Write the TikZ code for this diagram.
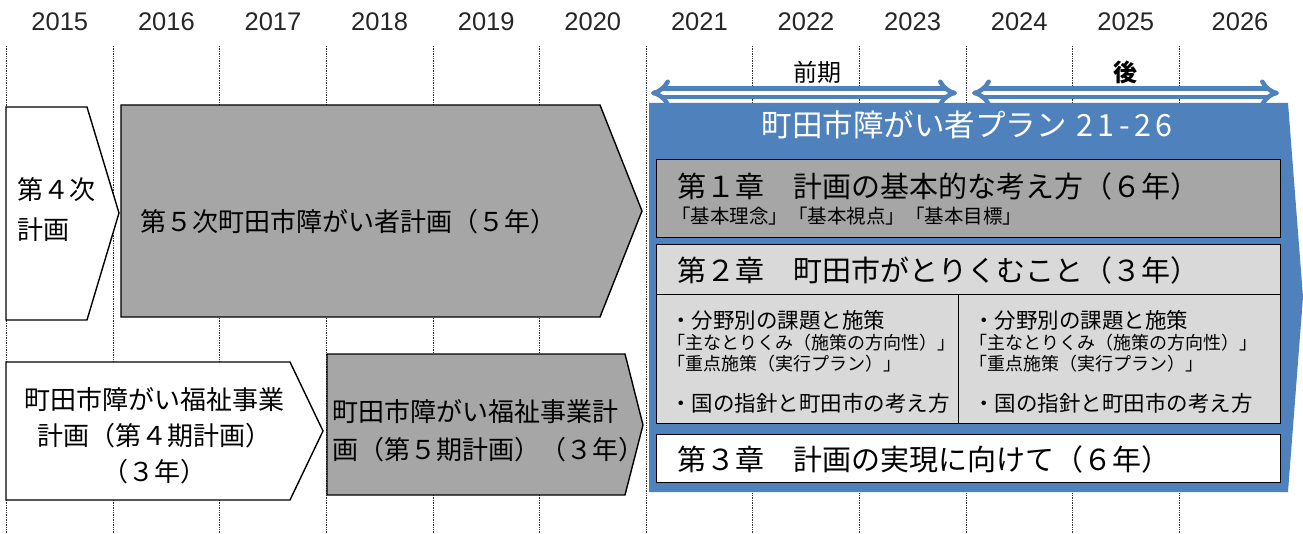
\documentclass[tikz,border=0pt]{standalone}
\usepackage{fontspec}
\setmainfont{Noto Sans CJK JP}
\newfontfamily\yearfont{Liberation Sans}
\usetikzlibrary{arrows.meta}
\definecolor{planblue}{HTML}{4F81BD}
\definecolor{plangray}{HTML}{A6A6A6}
\definecolor{planlight}{HTML}{D9D9D9}
\tikzset{
  gridln/.style={densely dotted,line width=0.7pt,black!80},
  yearlbl/.style={font=\yearfont\fontsize{25.5}{26}\selectfont,text=black!85},
  shapeln/.style={line width=1.4pt,line join=miter},
  boxln/.style={line width=1pt},
  bigtxt/.style={font=\fontsize{26}{38}\selectfont,inner sep=0pt},
  chaptxt/.style={font=\fontsize{29}{30}\selectfont,inner sep=0pt,anchor=west},
  subtxt/.style={font=\fontsize{19.5}{20}\selectfont,inner sep=0pt,anchor=west},
  bultxt/.style={font=\fontsize{21.5}{22}\selectfont,inner sep=0pt,anchor=west},
  smalltxt/.style={font=\fontsize{18}{19}\selectfont,inner sep=0pt,anchor=west},
  termarrow/.style={planblue,line width=4.5pt,double=white,double distance=4pt,{Implies}-{Implies}},
}
\begin{document}
\begin{tikzpicture}[x=1pt,y=-1pt]
  \useasboundingbox (0,0) rectangle (1303,534);
  \foreach \x in {0,...,11}
    \draw[gridln] (6.5+106.6*\x,46)--(6.5+106.6*\x,534);
  \foreach \yr [count=\i from 0] in {2015,...,2025}
    \node[yearlbl] (y\yr) at (59.8+106.6*\i,22) {\yr};
  \node[yearlbl] (y2026) at (1240,22) {2026};

  \filldraw[shapeln,fill=white] (6,107)--(87,107)--(119,213)--(87,320)--(6,320)--cycle;
  \node[bigtxt,anchor=west,align=left,font=\fontsize{26}{40}\selectfont] (plan4) at (17,210) {第４次\\計画};
  \filldraw[shapeln,fill=plangray] (121,105)--(600,105)--(642,211)--(600,317)--(121,317)--cycle;
  \node[bigtxt,anchor=west] (plan5) at (140,222) {第５次町田市障がい者計画（５年）};

  \filldraw[shapeln,fill=white] (6,362)--(290,362)--(323,431)--(290,500)--(6,500)--cycle;
  \node[bigtxt,align=center,font=\fontsize{26}{36}\selectfont] (fuku4) at (154,436) {町田市障がい福祉事業\\計画（第４期計画）\\（３年）};
  \filldraw[shapeln,fill=plangray] (327,354)--(625,354)--(643,425)--(625,495)--(327,495)--cycle;
  \node[bigtxt,anchor=west,align=left] (fuku5) at (332,431) {町田市障がい福祉事業計\\画（第５期計画）（３年）};

  \fill[planblue] (649,103)--(1288,103)--(1303,297)--(1288,492)--(649,492)--cycle;
  \node[font=\fontsize{30.5}{31}\selectfont,text=white,inner sep=0pt] (title) at (967,125) {町田市障がい者プラン\hspace{10pt}{\addfontfeature{LetterSpace=14}21-26}};

  \filldraw[boxln,fill=plangray] (656,160) rectangle (1280,238);
  \filldraw[boxln,fill=planlight] (656,245) rectangle (1280,295);
  \filldraw[boxln,fill=planlight] (656,295) rectangle (1280,423);
  \draw[boxln] (958,295)--(958,423);
  \filldraw[boxln,fill=white] (656,434) rectangle (1280,482);

  \node[chaptxt] (chap1) at (677,186) {第１章　計画の基本的な考え方（６年）};
  \node[subtxt] (chap1s) at (671,216) {「基本理念」「基本視点」「基本目標」};
  \node[chaptxt] (chap2) at (677,270) {第２章　町田市がとりくむこと（３年）};
  \node[bultxt] (zenA1) at (670,320) {・分野別の課題と施策};
  \node[smalltxt] (zenA2) at (667,343) {「主なとりくみ（施策の方向性）」};
  \node[smalltxt] (zenA3) at (667,364) {「重点施策（実行プラン）」};
  \node[bultxt] (zenA4) at (670,403) {・国の指針と町田市の考え方};
  \node[bultxt] (koB1) at (973,320) {・分野別の課題と施策};
  \node[smalltxt] (koB2) at (969,343) {「主なとりくみ（施策の方向性）」};
  \node[smalltxt] (koB3) at (969,364) {「重点施策（実行プラン）」};
  \node[bultxt] (koB4) at (973,403) {・国の指針と町田市の考え方};
  \node[chaptxt] (chap3) at (677,459) {第３章　計画の実現に向けて（６年）};

  \path (651,93)coordinate(zenL) (957,93)coordinate(zenR) (972,93)coordinate(koL) (1279,93)coordinate(koR);
  \draw[termarrow] (zenL)--(zenR);
  \draw[termarrow] (koL)--(koR);
  \node[font=\fontsize{24}{24}\selectfont] (zenki) at (817,72) {前期};
  \node[font=\fontsize{24}{24}\selectfont\bfseries] (kouki) at (1125,72) {後};
\end{tikzpicture}
\end{document}
